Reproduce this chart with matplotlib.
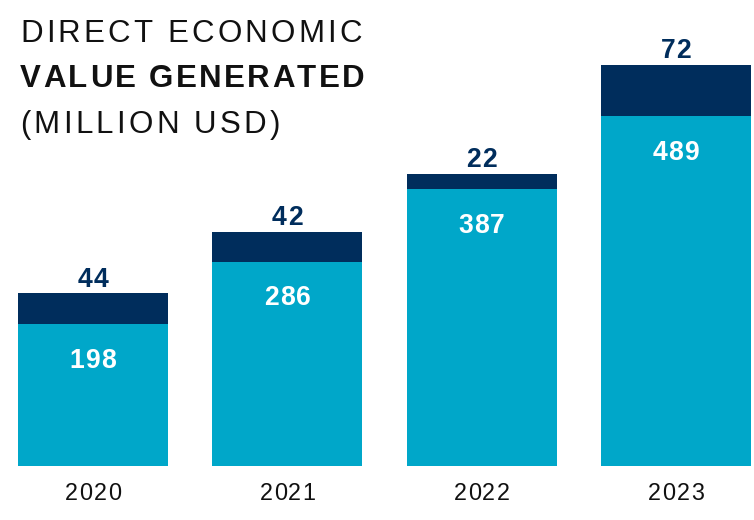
import matplotlib
matplotlib.use("Agg")
import matplotlib.pyplot as plt
from matplotlib.font_manager import FontProperties, findfont, get_font
from matplotlib.transforms import IdentityTransform

try:
    from matplotlib.ft2font import LoadFlags
    NO_SCALE = LoadFlags.NO_SCALE
except ImportError:
    NO_SCALE = 1

years = ["2020", "2021", "2022", "2023"]
base_values = [198, 286, 387, 489]
top_values = [44, 42, 22, 72]

title_lines = ["DIRECT ECONOMIC", "VALUE GENERATED", "(MILLION USD)"]

LIGHT = "#00A7C9"
DARK = "#002D5C"
TEXT = "#111111"
FAMILY = "Liberation Sans"
DPI = 100
W, H = 754, 520

fig = plt.figure(figsize=(W / DPI, H / DPI), dpi=DPI)
ax = fig.add_axes([0, 54 / H, 1, 466 / H])

x = list(range(len(years)))
unit = 194.33
width = 150 / unit
ax.bar(x, base_values, width=width, color=LIGHT, linewidth=0)
ax.bar(x, top_values, width=width, bottom=base_values, color=DARK, linewidth=0)
ax.set_xlim(-93 / unit, (W - 93) / unit)
ax.set_ylim(0, 466 / 0.7148)
ax.axis("off")


def spaced_text(px, py, s, size, weight, color, tracking, ha="left"):
    """Draw s at pixel position (px, py) one glyph at a time with extra letter spacing."""
    prop = FontProperties(family=FAMILY, size=size, weight=weight)
    font = get_font(findfont(prop))
    scale = size * DPI / 72 / font.units_per_EM
    advs = [font.load_char(ord(c), flags=NO_SCALE).horiAdvance * scale for c in s]
    total = sum(advs) + tracking * (len(s) - 1)
    if ha == "center":
        px -= total / 2
    for c, a in zip(s, advs):
        if c != " ":
            fig.text(px, py, c, fontproperties=prop, color=color,
                     transform=IdentityTransform(), ha="left", va="baseline")
        px += a + tracking


# title block
title_weights = ["normal", "bold", "normal"]
title_tracking = [3.2, 2.4, 3.3]
title_baselines = [42, 87, 133]
for line, wt, tr, yb in zip(title_lines, title_weights, title_tracking, title_baselines):
    spaced_text(20, H - yb, line, 22.5, wt, TEXT, tr)

# value labels and year labels
for xi, b, t, yr in zip(x, base_values, top_values, years):
    cx, y_top = ax.transData.transform((xi, b + t))
    _, y_mid = ax.transData.transform((xi, b))
    _, y0 = ax.transData.transform((xi, 0))
    spaced_text(cx, y_top + 6.5, str(t), 19.1, "bold", DARK, 1.0, ha="center")
    spaced_text(cx, y_mid - 43.5, str(b), 19.1, "bold", "white", 1.0, ha="center")
    spaced_text(cx, y0 - 33.5, yr, 16.8, "normal", TEXT, 1.3, ha="center")

fig.savefig("out.png", dpi=DPI)
